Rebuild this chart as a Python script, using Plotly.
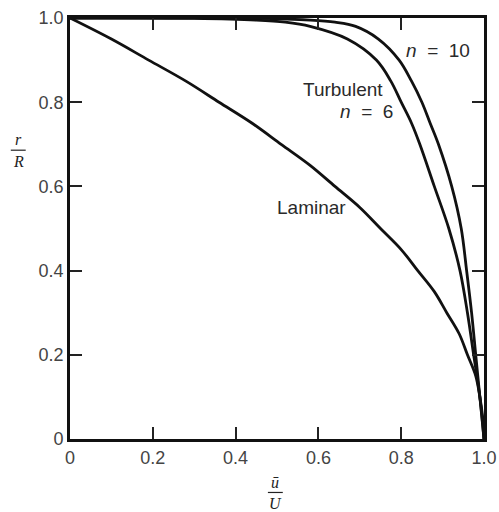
import plotly.graph_objects as go

# r/R sample positions and u/U
r_lam = [1.0, 0.95, 0.9, 0.85, 0.8, 0.75, 0.7, 0.65, 0.6, 0.55, 0.5, 0.45, 0.4,
         0.35, 0.3, 0.25, 0.2, 0.15, 0.1, 0.05, 0.0]
u_lam = [0.0, 0.10, 0.19, 0.28, 0.36, 0.44, 0.51, 0.58, 0.64, 0.70, 0.75, 0.80, 0.84,
         0.88, 0.91, 0.94, 0.96, 0.98, 0.99, 0.997, 1.0]

r_turb = [1.0, 0.999, 0.995, 0.99, 0.98, 0.95, 0.9, 0.85, 0.8, 0.75, 0.7, 0.6, 0.5,
          0.4, 0.3, 0.2, 0.1, 0.0]
u_n6 = [0.0, 0.30, 0.45, 0.52, 0.58, 0.67, 0.74, 0.775, 0.80, 0.825, 0.845, 0.88, 0.915,
        0.942, 0.96, 0.975, 0.99, 1.0]
u_n10 = [0.0, 0.45, 0.58, 0.64, 0.69, 0.745, 0.795, 0.825, 0.85, 0.87, 0.89, 0.922, 0.945,
         0.958, 0.97, 0.98, 0.99, 1.0]

tick_vals = [0, 0.2, 0.4, 0.6, 0.8, 1.0]
tick_text = ["0", "0.2", "0.4", "0.6", "0.8", "1.0"]

line = dict(color="#111111", width=2.8, shape="spline", smoothing=1.0)

fig = go.Figure()
for u, r in [(u_lam, r_lam), (u_n6, r_turb), (u_n10, r_turb)]:
    fig.add_trace(go.Scatter(x=u, y=r, mode="lines", line=line, showlegend=False,
                             hoverinfo="skip"))

axis_common = dict(range=[0, 1.0], tickvals=tick_vals, ticktext=tick_text,
                   showgrid=False, zeroline=False, showline=True, linecolor="#111111",
                   linewidth=2.8, mirror="allticks", ticks="inside", ticklen=12,
                   tickwidth=1.8, tickcolor="#222222", automargin=False,
                   ticklabeloverflow="allow",
                   tickfont=dict(family="Liberation Sans, Arial", size=18, color="#444444"))
fig.update_xaxes(**axis_common)
fig.update_yaxes(**axis_common)

font_lbl = dict(family="Liberation Sans, Arial", size=19, color="#2a2a2a")
annots = [
    dict(x=0.89, y=0.924, text="<i>n</i>\u00a0 = \u00a010", font=font_lbl),
    dict(x=0.66, y=0.829, text="Turbulent", font=font_lbl),
    dict(x=0.715, y=0.777, text="<i>n</i>\u00a0 = \u00a06", font=font_lbl),
    dict(x=0.583, y=0.549, text="Laminar", font=font_lbl),
]
for a in annots:
    fig.add_annotation(xref="x", yref="y", showarrow=False, xanchor="center",
                       yanchor="middle", **a)

frac_font = dict(family="Liberation Serif, Times New Roman", size=16, color="#222222")
frac = dict(xref="paper", yref="paper", showarrow=False, xanchor="center",
            yanchor="middle", font=frac_font)
# x-axis title fraction  (ū / U)
fig.add_annotation(x=0.496, y=-0.103, text="<i>ū</i>", **frac)
fig.add_annotation(x=0.496, y=-0.153, text="<i>U</i>", **frac)
fig.add_shape(type="line", xref="paper", yref="paper", x0=0.478, x1=0.514,
              y0=-0.127, y1=-0.127, line=dict(color="#222222", width=1.2))
# y-axis title fraction  (r / R)
fig.add_annotation(x=-0.125, y=0.712, text="<i>r</i>", **frac)
fig.add_annotation(x=-0.125, y=0.658, text="<i>R</i>", **frac)
fig.add_shape(type="line", xref="paper", yref="paper", x0=-0.143, x1=-0.107,
              y0=0.686, y1=0.686, line=dict(color="#222222", width=1.2))

fig.update_layout(width=499, height=512, margin=dict(l=70, r=15, t=18, b=73),
                  plot_bgcolor="white", paper_bgcolor="white")

fig.write_html("out.html", config={"displayModeBar": False},
               post_script="document.body.style.margin='0';document.body.style.overflow='hidden';")
